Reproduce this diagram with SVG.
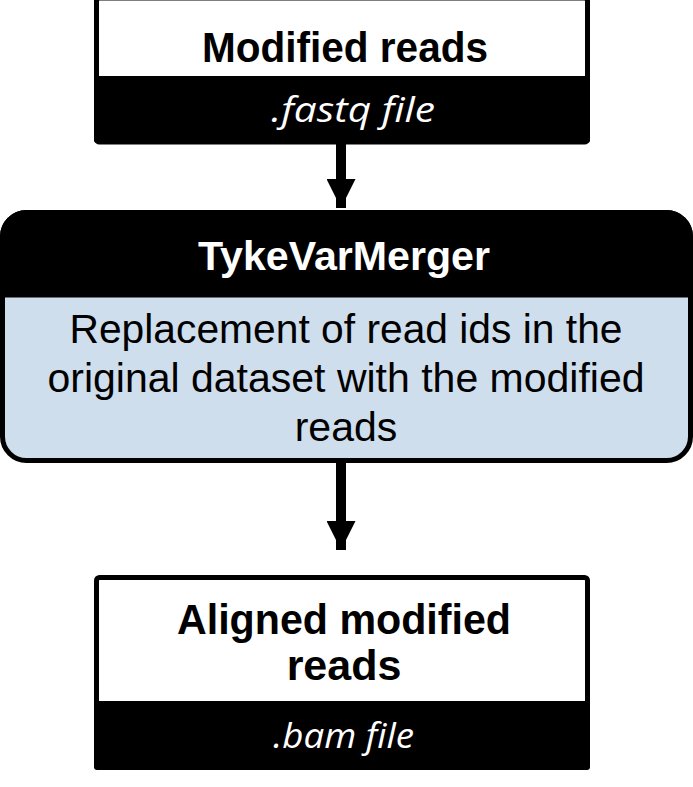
<svg xmlns="http://www.w3.org/2000/svg" width="693" height="787" viewBox="0 0 693 787">
<style>
.title{font-family:"Liberation Sans",Arial,sans-serif;font-weight:bold;font-size:43px;text-anchor:middle;fill:#000}
.wtitle{font-family:"Liberation Sans",Arial,sans-serif;font-weight:bold;font-size:41px;text-anchor:middle;fill:#fff}
.body{font-family:"Liberation Sans",Arial,sans-serif;font-size:41px;text-anchor:middle;fill:#000}
.file{font-family:"Open Sans","Liberation Sans",sans-serif;font-style:italic;font-size:35px;text-anchor:middle;fill:#fff}
</style>
<defs>
<marker id="ah" markerWidth="29" markerHeight="29" viewBox="0 0 29 29" refX="29" refY="14.5" orient="auto" markerUnits="userSpaceOnUse">
<path d="M0,0 L29,14.5 L0,29 Z" fill="#000"/>
</marker>
</defs>
<g id="connectors">
<line x1="341" y1="143" x2="341" y2="208" stroke="#000" stroke-width="10" marker-end="url(#ah)"/>
<line x1="341" y1="462" x2="341" y2="550" stroke="#000" stroke-width="10" marker-end="url(#ah)"/>
</g>
<g id="modified-reads">
<rect x="96.5" y="-2" width="491" height="144" rx="3" fill="#fff" stroke="#000" stroke-width="5"/>
<rect x="94" y="76" width="496" height="67" rx="3" fill="#000"/>
<text class="title" x="345" y="62" textLength="286" lengthAdjust="spacingAndGlyphs">Modified reads</text>
<text class="file" x="353" y="122" textLength="164" lengthAdjust="spacingAndGlyphs">.fastq file</text>
</g>
<g id="tykevarmerger">
<rect x="2.5" y="212.5" width="688" height="248" rx="24" fill="#cfdeec" stroke="#000" stroke-width="5"/>
<path d="M2.5,295 V236.5 A24,24 0 0 1 26.5,212.5 H666.5 A24,24 0 0 1 690.5,236.5 V295 Z" fill="#000" stroke="#000" stroke-width="5"/>
<text class="wtitle" x="344" y="270" textLength="292" lengthAdjust="spacingAndGlyphs">TykeVarMerger</text>
<text class="body" x="346" y="343" textLength="553" lengthAdjust="spacingAndGlyphs">Replacement of read ids in the</text>
<text class="body" x="346" y="392">original dataset with the modified</text>
<text class="body" x="346" y="441">reads</text>
</g>
<g id="aligned-modified-reads">
<rect x="96.5" y="577.5" width="491" height="190" rx="3" fill="#fff" stroke="#000" stroke-width="5"/>
<rect x="94" y="701" width="496" height="69" rx="3" fill="#000"/>
<text class="title" x="344" y="634" textLength="334" lengthAdjust="spacingAndGlyphs">Aligned modified</text>
<text class="title" x="344" y="680">reads</text>
<text class="file" x="343.5" y="748" textLength="141" lengthAdjust="spacingAndGlyphs">.bam file</text>
</g>
</svg>
